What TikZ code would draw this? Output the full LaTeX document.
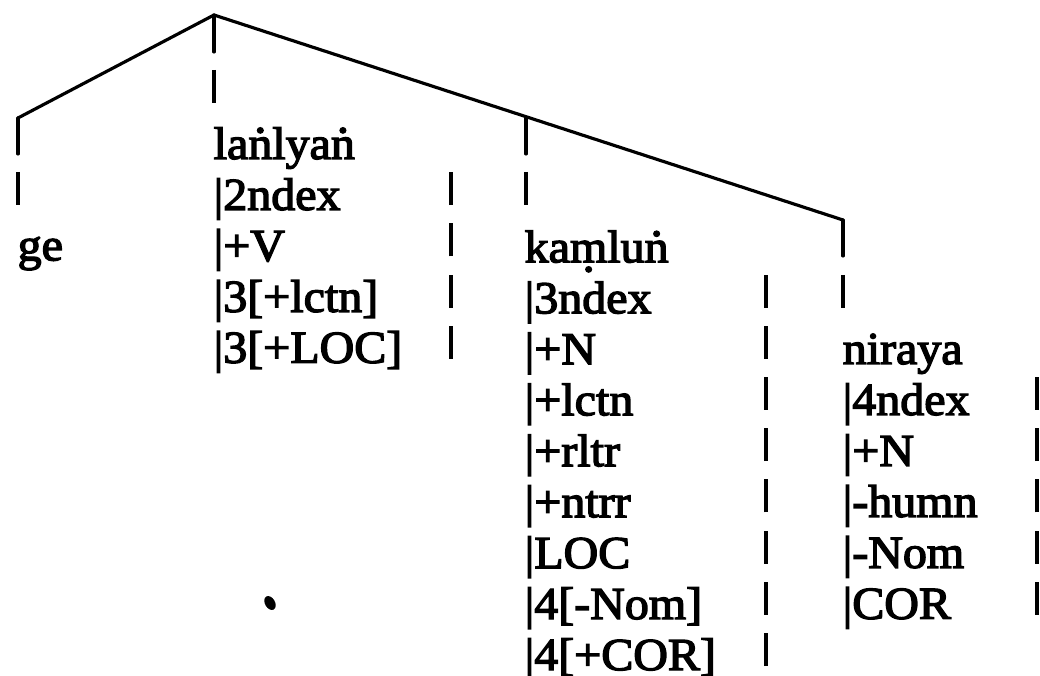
\documentclass[tikz,border=0pt]{standalone}
\usepackage{fontspec}
\setmainfont{Liberation Serif}[FakeStretch=1.05,FakeBold=3]
\usetikzlibrary{positioning}

\newcommand{\ndot}{\ooalign{n\cr\hidewidth\raisebox{0.58em}{.}\hidewidth\cr}}
\newcommand{\mdot}{\ooalign{m\cr\hidewidth\raisebox{-0.2em}{.}\hidewidth\cr}}

\begin{document}
\begin{tikzpicture}[x=1.000cm,y=1.000cm,
 font=\fontsize{13}{14.5}\selectfont,
 col/.style={anchor=base west,align=left,inner sep=0pt},
 branch/.style={line width=0.9pt,line cap=round,line join=round},
 vbar/.style={line width=1.1pt}]
\useasboundingbox (0,0) rectangle (10.40,-6.76);
% tree
\coordinate (top) at (2.14,-0.15);
\coordinate (lc) at (0.18,-1.18);
\coordinate (kc) at (5.26,-1.17);
\coordinate (nc) at (8.43,-2.20);
\draw[branch] (lc) -- (top) -- (nc);
\draw[branch] (top) -- ++(0,-0.37);
\draw[branch] (lc) -- ++(0,-0.36);
\draw[branch] (kc) -- ++(0,-0.37);
\draw[branch] (nc) -- ++(0,-0.36);
% words (base = baseline of the last line)
\node[col] (ge) at (0.17,-2.604) {ge};
\node[col] (lan) at (2.13,-3.628) {la\ndot lya\ndot\\|2ndex\\|+V\\|3[+lctn]\\|3[+LOC]};
\node[col] (kam) at (5.24,-6.700) {ka\mdot lu\ndot\\|3ndex\\|+N\\|+lctn\\|+rltr\\|+ntrr\\|LOC\\|4[-Nom]\\|4[+COR]};
\node[col] (nir) at (8.42,-6.188) {niraya\\|4ndex\\|+N\\|-humn\\|-Nom\\|COR};
% dashes under the branches
\draw[vbar] (2.14,-0.70) -- (2.14,-1.03);
\draw[vbar] (0.18,-1.72) -- (0.18,-2.05);
\draw[vbar] (5.26,-1.72) -- (5.26,-2.05);
\draw[vbar] (8.43,-2.75) -- (8.43,-3.08);
% right edges of the feature columns
\foreach \r in {1,...,4}
  \draw[vbar] (4.51,{-1.54-0.512*\r}) -- ++(0,0.33);
\foreach \r in {3,...,10}
  \draw[vbar] (7.66,{-1.54-0.512*\r}) -- ++(0,0.33);
\foreach \r in {5,...,9}
  \draw[vbar] (10.37,{-1.54-0.512*\r}) -- ++(0,0.33);
\fill[rotate around={30:(2.70,-6.03)}] (2.70,-6.03) ellipse (0.05 and 0.075);
\end{tikzpicture}
\end{document}
